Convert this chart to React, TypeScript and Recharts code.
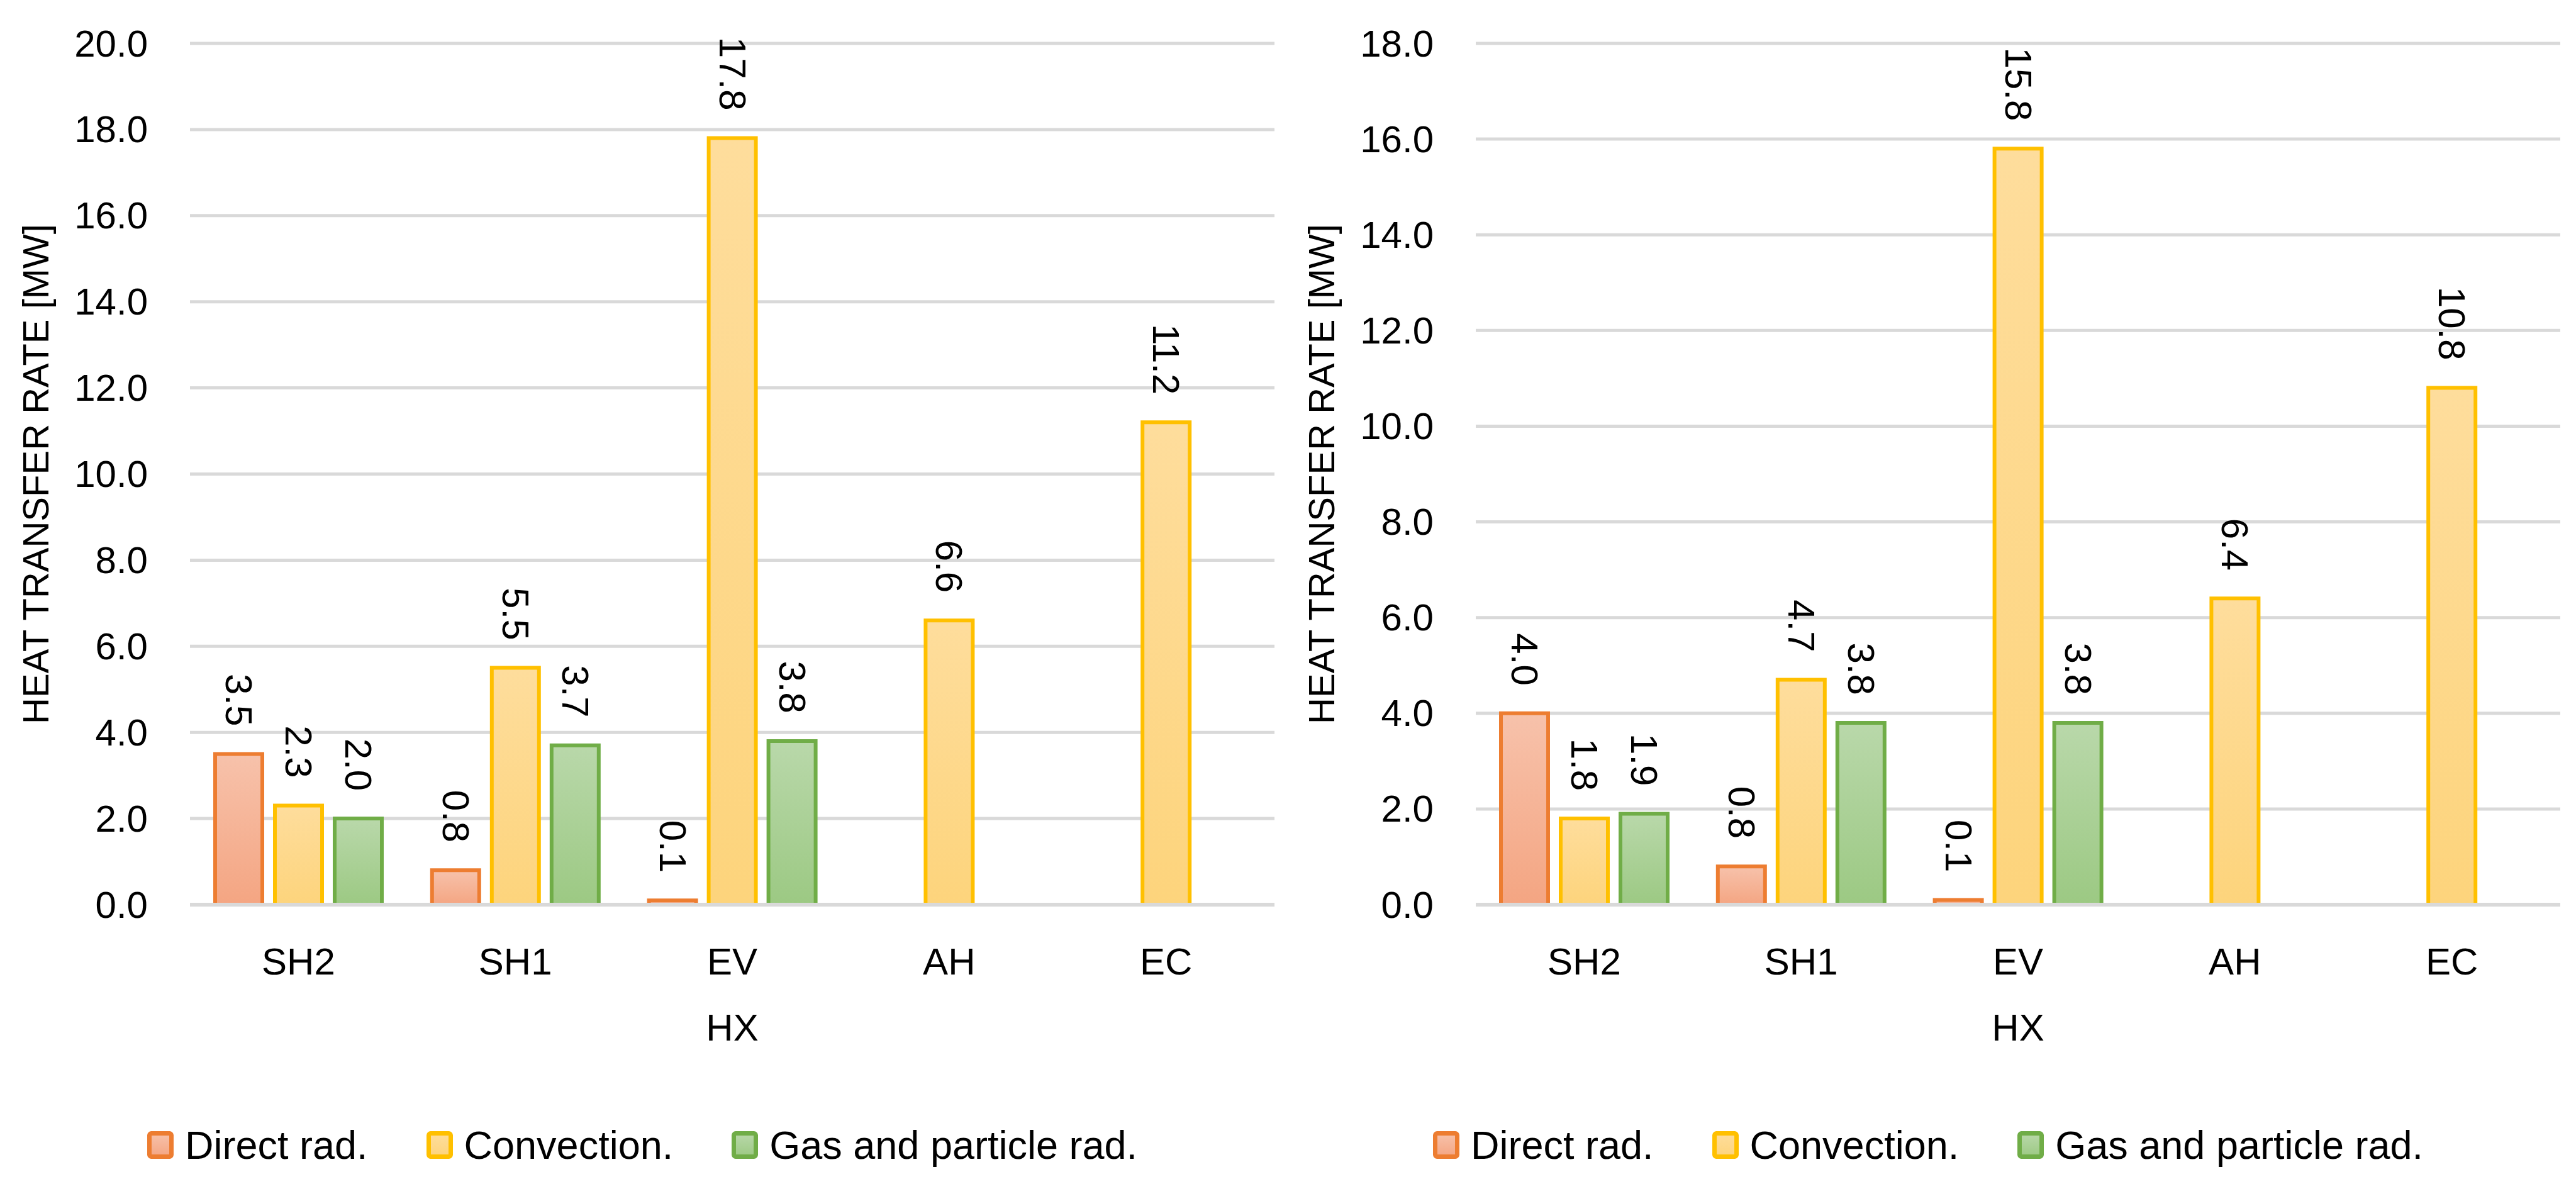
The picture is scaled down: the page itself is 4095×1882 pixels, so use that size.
import { BarChart, Bar, XAxis, YAxis, CartesianGrid, Legend, LabelList, ReferenceLine } from 'recharts';

const FONT = '"Liberation Sans", Arial, sans-serif';

const CATEGORIES = ['SH2', 'SH1', 'EV', 'AH', 'EC'];

const LEFT_DIRECT = [3.5, 0.8, 0.1, null, null];
const LEFT_CONVECTION = [2.3, 5.5, 17.8, 6.6, 11.2];
const LEFT_GAS = [2.0, 3.7, 3.8, null, null];
const LEFT_TICKS = [0, 2, 4, 6, 8, 10, 12, 14, 16, 18, 20];

const RIGHT_DIRECT = [4.0, 0.8, 0.1, null, null];
const RIGHT_CONVECTION = [1.8, 4.7, 15.8, 6.4, 10.8];
const RIGHT_GAS = [1.9, 3.8, 3.8, null, null];
const RIGHT_TICKS = [0, 2, 4, 6, 8, 10, 12, 14, 16, 18];

const SERIES = [
  { key: 'direct', name: 'Direct rad.', stroke: '#ED7D31', top: '#F7C2AB', bottom: '#F4A582' },
  { key: 'convection', name: 'Convection.', stroke: '#FFC000', top: '#FEDD9C', bottom: '#FDD47C' },
  { key: 'gas', name: 'Gas and particle rad.', stroke: '#70AD47', top: '#B9D8AA', bottom: '#9CC983' },
];

const buildRows = (direct, convection, gas) =>
  CATEGORIES.map((hx, i) => ({ hx, direct: direct[i], convection: convection[i], gas: gas[i] }));

const LEFT_ROWS = buildRows(LEFT_DIRECT, LEFT_CONVECTION, LEFT_GAS);
const RIGHT_ROWS = buildRows(RIGHT_DIRECT, RIGHT_CONVECTION, RIGHT_GAS);

const XTick = (props) => {
  const { x, y, payload } = props;
  return (
    <text x={x} y={Number(y) + 90} textAnchor="middle" dominantBaseline="central" fontSize={60} fontFamily={FONT} fill="#000">
      {payload.value}
    </text>
  );
};

const YTick = (props) => {
  const { y, payload } = props;
  return (
    <text x={235} y={y} textAnchor="end" dominantBaseline="central" fontSize={60} fontFamily={FONT} fill="#000">
      {Number(payload.value).toFixed(1)}
    </text>
  );
};

const xTitle = (props) => {
  const vb = props.viewBox || { x: 302, y: 1438, width: 1724, height: 342 };
  return (
    <text x={vb.x + vb.width / 2} y={vb.y + 195} textAnchor="middle" dominantBaseline="central" fontSize={60} fontFamily={FONT} fill="#000">
      HX
    </text>
  );
};

const yTitle = (props) => {
  const vb = props.viewBox || { x: 0, y: 69, width: 302, height: 1369 };
  const cx = 56;
  const cy = vb.y + vb.height / 2;
  return (
    <text x={cx} y={cy} transform={`rotate(-90 ${cx} ${cy})`} textAnchor="middle" dominantBaseline="central" fontSize={58} fontFamily={FONT} fill="#000">
      HEAT TRANSFER RATE [MW]
    </text>
  );
};

const valueLabel = (props) => {
  const { x, y, width, value } = props;
  if (value === null || value === undefined) return null;
  const cx = Number(x) + Number(width) / 2;
  const ty = Number(y) - 44;
  return (
    <text x={cx} y={ty} transform={`rotate(90 ${cx} ${ty})`} textAnchor="end" dominantBaseline="central" fontSize={60} fontFamily={FONT} fill="#000">
      {Number(value).toFixed(1)}
    </text>
  );
};

// legend drawn in series order (Recharts sorts its payload by name)
const makeLegend = (prefix) => () => (
  <div style={{ display: 'flex', justifyContent: 'center', alignItems: 'center', height: 80, paddingLeft: 16, fontFamily: FONT, fontSize: 63, color: '#000' }}>
    {SERIES.map((s, i) => (
      <div key={s.key} style={{ display: 'flex', alignItems: 'center', marginRight: i < SERIES.length - 1 ? 93 : 0 }}>
        <svg width={42} height={44} style={{ marginRight: 18 }}>
          <rect x={3.5} y={3.5} width={35} height={37} rx={3} fill={`url(#${prefix}${s.key})`} stroke={s.stroke} strokeWidth={7} />
        </svg>
        <span style={{ whiteSpace: 'nowrap' }}>{s.name}</span>
      </div>
    ))}
  </div>
);

function HeatChart({ rows, ticks, prefix }) {
  return (
    <BarChart width={2047} height={1882} data={rows} margin={{ top: 69, right: 21, bottom: 22, left: 0 }} barSize={75} barGap={20}>
      <defs>
        {SERIES.map((s) => (
          <linearGradient key={s.key} id={`${prefix}${s.key}`} x1="0" y1="0" x2="0" y2="1">
            <stop offset="0%" stopColor={s.top} />
            <stop offset="100%" stopColor={s.bottom} />
          </linearGradient>
        ))}
      </defs>
      <CartesianGrid vertical={false} stroke="#D9D9D9" strokeWidth={5} />
      <XAxis dataKey="hx" axisLine={false} tickLine={false} tickSize={0} tickMargin={0} height={342} interval={0} tick={<XTick />} label={{ content: xTitle }} />
      <YAxis domain={[0, ticks[ticks.length - 1]]} ticks={ticks} interval={0} width={302} axisLine={false} tickLine={false} tickSize={0} tickMargin={0} tick={<YTick />} label={{ content: yTitle }} />
      <Legend verticalAlign="bottom" align="center" height={80} content={makeLegend(prefix)} />
      {SERIES.map((s) => (
        <Bar key={s.key} dataKey={s.key} name={s.name} fill={`url(#${prefix}${s.key})`} stroke={s.stroke} strokeWidth={6} isAnimationActive={false}>
          <LabelList dataKey={s.key} content={valueLabel} />
        </Bar>
      ))}
      <ReferenceLine y={0} stroke="#D9D9D9" strokeWidth={6} />
    </BarChart>
  );
}

export default function App() {
  return (
    <div style={{ position: 'absolute', left: 0, top: 0, width: 4095, height: 1882, background: '#fff', overflow: 'hidden' }}>
      <div style={{ position: 'absolute', left: 0, top: 0 }}>
        <HeatChart rows={LEFT_ROWS} ticks={LEFT_TICKS} prefix="l-" />
      </div>
      <div style={{ position: 'absolute', left: 2044, top: 0 }}>
        <HeatChart rows={RIGHT_ROWS} ticks={RIGHT_TICKS} prefix="r-" />
      </div>
    </div>
  );
}
